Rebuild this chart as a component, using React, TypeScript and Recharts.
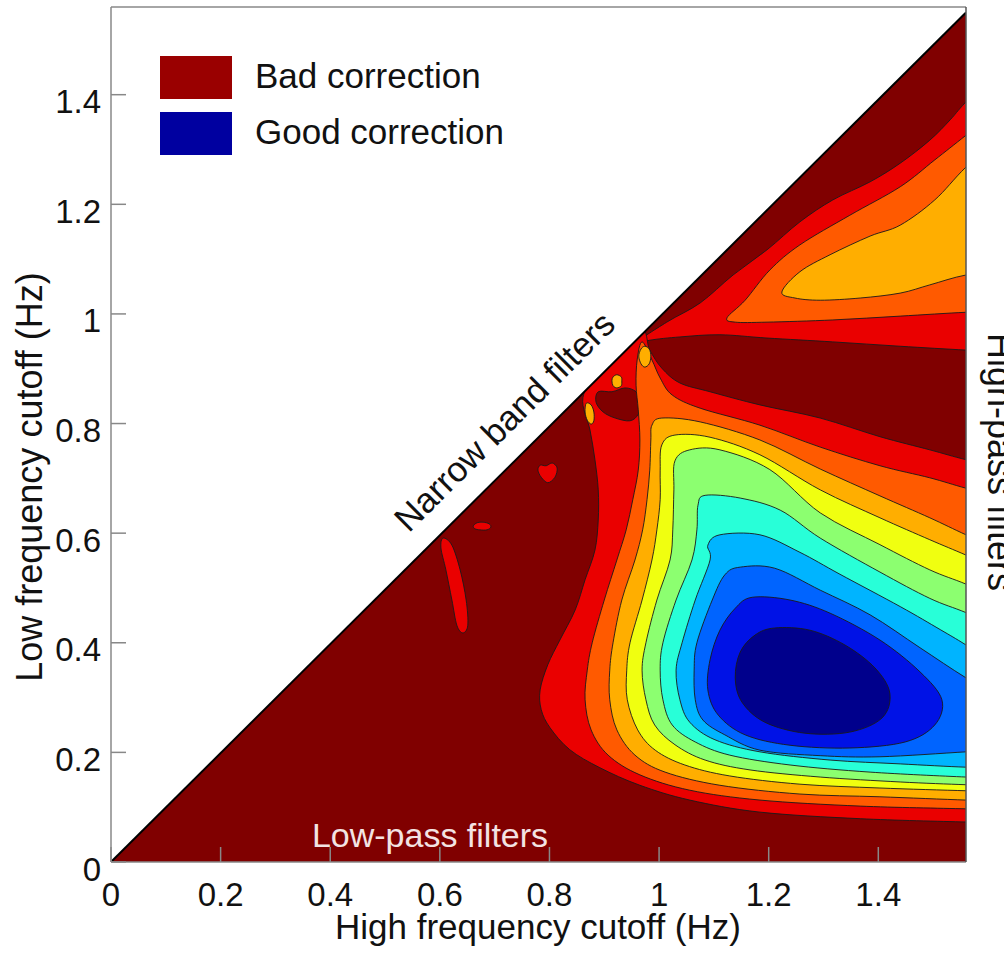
import React from 'react';
import { ComposedChart, Scatter, XAxis, YAxis } from 'recharts';

type P = [number, number];

// ---------- axes ----------
const X_TICKS = [0, 0.2, 0.4, 0.6, 0.8, 1, 1.2, 1.4];
const Y_TICKS = [0, 0.2, 0.4, 0.6, 0.8, 1, 1.2, 1.4];
const DOMAIN: [number, number] = [0, 1.56];

// ---------- frame ----------
const PLOT_AREA: P[] = [[0, 0], [1.56, 0], [1.56, 1.56], [0, 1.56]];
const ABOVE_DIAGONAL: P[] = [[0, 0], [0, 1.56], [1.56, 1.56], [1.56, 1.55]];
const DIAGONAL: P[] = [[0, 0], [1.56, 1.55]];

// ---------- basin contours (outer -> inner); the field continues past the right edge ----------
const RED_BASIN: P[] = [
  [1.64, 0.072], [1.56, 0.073], [1.367, 0.079], [1.184, 0.091], [1.056, 0.113], [0.965, 0.14], [0.892, 0.172],
  [0.837, 0.205], [0.801, 0.245], [0.785, 0.278], [0.783, 0.314], [0.797, 0.36], [0.819, 0.405],
  [0.847, 0.46], [0.865, 0.515], [0.883, 0.569], [0.889, 0.624], [0.889, 0.679], [0.883, 0.734],
  [0.874, 0.788], [0.861, 0.847], [0.892, 0.898], [0.965, 0.971], [0.983, 0.934], [1.005, 0.901],
  [1.038, 0.874], [1.093, 0.858], [1.184, 0.834], [1.294, 0.81], [1.403, 0.776], [1.494, 0.752],
  [1.56, 0.734], [1.64, 0.716],
];
const ORANGE_BASIN: P[] = [
  [1.64, 0.095], [1.56, 0.097], [1.367, 0.102], [1.184, 0.113], [1.056, 0.131], [0.965, 0.159], [0.907, 0.195],
  [0.876, 0.241], [0.865, 0.296], [0.869, 0.35], [0.878, 0.4], [0.9, 0.478], [0.923, 0.551],
  [0.94, 0.606], [0.952, 0.661], [0.962, 0.715], [0.965, 0.77], [0.962, 0.825], [0.958, 0.87],
  [0.96, 0.916], [0.969, 0.949], [0.987, 0.916], [1.002, 0.883], [1.024, 0.852], [1.075, 0.828],
  [1.184, 0.797], [1.294, 0.757], [1.403, 0.723], [1.494, 0.701], [1.56, 0.682], [1.64, 0.662],
];
const AMBER_BASIN: P[] = [
  [1.64, 0.111], [1.56, 0.113], [1.403, 0.119], [1.257, 0.124], [1.111, 0.14], [1.011, 0.164], [0.956, 0.195],
  [0.923, 0.241], [0.91, 0.296], [0.91, 0.35], [0.916, 0.4], [0.932, 0.478], [0.956, 0.551],
  [0.97, 0.606], [0.978, 0.661], [0.983, 0.715], [0.985, 0.77], [0.987, 0.797], [1.005, 0.81],
  [1.075, 0.803], [1.184, 0.77], [1.294, 0.717], [1.403, 0.668], [1.494, 0.628], [1.56, 0.597], [1.64, 0.562],
];
const YELLOW_BASIN: P[] = [
  [1.64, 0.128], [1.56, 0.13], [1.403, 0.135], [1.257, 0.142], [1.129, 0.157], [1.047, 0.177], [0.993, 0.204],
  [0.961, 0.241], [0.942, 0.296], [0.941, 0.35], [0.947, 0.4], [0.969, 0.478], [0.987, 0.551],
  [0.996, 0.606], [1.002, 0.661], [1.002, 0.715], [1.005, 0.761], [1.029, 0.779], [1.093, 0.775],
  [1.184, 0.743], [1.294, 0.679], [1.403, 0.628], [1.494, 0.588], [1.56, 0.56], [1.64, 0.525],
];
const GREEN_BASIN: P[] = [
  [1.64, 0.139], [1.56, 0.141], [1.44, 0.146], [1.294, 0.155], [1.166, 0.168], [1.084, 0.186], [1.029, 0.214],
  [0.992, 0.25], [0.976, 0.296], [0.969, 0.35], [0.976, 0.4], [0.996, 0.478], [1.02, 0.551],
  [1.025, 0.606], [1.027, 0.679], [1.029, 0.732], [1.056, 0.752], [1.111, 0.752], [1.202, 0.716],
  [1.294, 0.637], [1.403, 0.579], [1.494, 0.533], [1.56, 0.507], [1.64, 0.472],
];
const CYAN_BASIN: P[] = [
  [1.64, 0.153], [1.56, 0.155], [1.385, 0.164], [1.239, 0.177], [1.129, 0.195], [1.066, 0.219], [1.024, 0.25],
  [1.007, 0.296], [1.002, 0.35], [1.007, 0.4], [1.031, 0.478], [1.06, 0.551], [1.069, 0.606],
  [1.071, 0.651], [1.084, 0.669], [1.148, 0.664], [1.221, 0.642], [1.294, 0.591], [1.403, 0.529],
  [1.494, 0.481], [1.56, 0.455], [1.64, 0.42],
];
const LIGHTBLUE_BASIN: P[] = [
  [1.64, 0.172], [1.56, 0.173], [1.44, 0.179], [1.312, 0.186], [1.184, 0.201], [1.102, 0.223], [1.056, 0.255],
  [1.038, 0.296], [1.031, 0.35], [1.042, 0.4], [1.066, 0.478], [1.093, 0.551], [1.089, 0.578],
  [1.111, 0.597], [1.184, 0.597], [1.257, 0.565], [1.33, 0.525], [1.44, 0.466], [1.513, 0.424],
  [1.56, 0.396], [1.64, 0.345],
];
const BLUE_BASIN: P[] = [
  [1.64, 0.206], [1.56, 0.201], [1.403, 0.192], [1.294, 0.194], [1.184, 0.204], [1.12, 0.232], [1.08, 0.259],
  [1.066, 0.296], [1.064, 0.35], [1.069, 0.4], [1.097, 0.478], [1.12, 0.524], [1.148, 0.538],
  [1.211, 0.536], [1.294, 0.496], [1.385, 0.451], [1.476, 0.391], [1.56, 0.336], [1.64, 0.29],
];
const DEEPBLUE_BASIN: P[] = [
  [1.17, 0.483], [1.239, 0.478], [1.312, 0.454], [1.403, 0.405], [1.476, 0.347], [1.516, 0.296],
  [1.503, 0.25], [1.449, 0.219], [1.348, 0.208], [1.239, 0.213], [1.157, 0.232], [1.108, 0.268],
  [1.089, 0.314], [1.093, 0.369], [1.111, 0.423], [1.139, 0.463],
];
const NAVY_BASIN: P[] = [
  [1.211, 0.427], [1.275, 0.423], [1.339, 0.396], [1.394, 0.354], [1.421, 0.308], [1.407, 0.263],
  [1.348, 0.237], [1.266, 0.235], [1.193, 0.255], [1.151, 0.292], [1.139, 0.336], [1.148, 0.383],
  [1.175, 0.414],
];

// ---------- upper (high-pass) band ----------
const RED_UPPER: P[] = [
  [0.951, 0.943], [1.014, 0.985], [1.075, 1.02], [1.135, 1.071], [1.197, 1.117], [1.257, 1.168],
  [1.317, 1.208], [1.385, 1.241], [1.44, 1.275], [1.494, 1.317], [1.531, 1.354], [1.56, 1.387],
  [1.64, 1.47], [1.64, 0.93],
  [1.56, 0.934], [1.44, 0.941], [1.317, 0.949], [1.197, 0.956], [1.111, 0.962], [1.038, 0.958],
  [0.983, 0.952],
];
const ORANGE_UPPER: P[] = [
  [1.124, 0.993], [1.157, 1.025], [1.202, 1.08], [1.257, 1.126], [1.348, 1.18], [1.44, 1.232],
  [1.503, 1.281], [1.56, 1.326], [1.64, 1.39], [1.64, 1.005],
  [1.56, 1.003], [1.44, 0.996], [1.317, 0.989], [1.197, 0.985], [1.139, 0.985],
];
const AMBER_UPPER: P[] = [
  [1.224, 1.04], [1.257, 1.077], [1.312, 1.108], [1.385, 1.142], [1.44, 1.162], [1.503, 1.208],
  [1.56, 1.268], [1.64, 1.34], [1.64, 1.08],
  [1.56, 1.071], [1.494, 1.053], [1.44, 1.038], [1.367, 1.029], [1.294, 1.025], [1.248, 1.029],
];

// ---------- small islands ----------
const DARK_EYE: P[] = [
  [0.889, 0.858], [0.914, 0.858], [0.938, 0.865], [0.958, 0.858], [0.967, 0.839], [0.962, 0.817],
  [0.947, 0.805], [0.92, 0.81], [0.898, 0.821], [0.885, 0.839],
];
const AMBER_BLOB_1: P[] = [
  [0.974, 0.941], [0.982, 0.936], [0.985, 0.923], [0.982, 0.909], [0.974, 0.903], [0.967, 0.909],
  [0.963, 0.923], [0.967, 0.936],
];
const AMBER_BLOB_2: P[] = [
  [0.923, 0.889], [0.931, 0.885], [0.932, 0.878], [0.931, 0.869], [0.923, 0.865], [0.916, 0.869],
  [0.914, 0.878], [0.916, 0.885],
];
const AMBER_BLOB_3: P[] = [
  [0.867, 0.837], [0.876, 0.834], [0.881, 0.821], [0.881, 0.805], [0.876, 0.799], [0.869, 0.806],
  [0.865, 0.821],
];
const RED_BLOB_1: P[] = [
  [0.783, 0.724], [0.794, 0.723], [0.805, 0.728], [0.814, 0.719], [0.81, 0.702], [0.797, 0.692],
  [0.785, 0.702], [0.779, 0.715],
];
const RED_BLOB_2: P[] = [
  [0.661, 0.613], [0.668, 0.619], [0.679, 0.62], [0.69, 0.617], [0.693, 0.611], [0.686, 0.606],
  [0.673, 0.606], [0.664, 0.608],
];
const RED_BLOB_3: P[] = [
  [0.606, 0.591], [0.622, 0.578], [0.637, 0.533], [0.648, 0.478], [0.651, 0.432], [0.642, 0.418],
  [0.631, 0.432], [0.622, 0.478], [0.611, 0.533], [0.602, 0.573],
];

// ---------- colours ----------
const C_DARKRED = '#800000';
const C_RED = '#ea0000';
const C_ORANGE = '#ff5a00';
const C_AMBER = '#ffae00';
const C_YELLOW = '#f0ff10';
const C_GREEN = '#8cff70';
const C_CYAN = '#28ffd8';
const C_LIGHTBLUE = '#00b4ff';
const C_BLUE = '#0064ff';
const C_DEEPBLUE = '#0012e6';
const C_NAVY = '#00008c';
const LINE = '#1a1a1a';

const LEGEND_ITEMS = [
  { label: 'Bad correction', color: '#9a0000' },
  { label: 'Good correction', color: '#0000a0' },
];

const FONT = '"Liberation Sans", Arial, Helvetica, sans-serif';

type Layer = { key: string; pts: P[]; fill: string; stroke: string; smooth: boolean };

const LAYERS: Layer[] = [
  { key: 'bg', pts: PLOT_AREA, fill: C_DARKRED, stroke: 'none', smooth: false },
  { key: 'rb1', pts: RED_BLOB_1, fill: C_RED, stroke: LINE, smooth: true },
  { key: 'rb2', pts: RED_BLOB_2, fill: C_RED, stroke: LINE, smooth: true },
  { key: 'rb3', pts: RED_BLOB_3, fill: C_RED, stroke: LINE, smooth: true },
  { key: 'u1', pts: RED_UPPER, fill: C_RED, stroke: LINE, smooth: true },
  { key: 'u2', pts: ORANGE_UPPER, fill: C_ORANGE, stroke: LINE, smooth: true },
  { key: 'u3', pts: AMBER_UPPER, fill: C_AMBER, stroke: LINE, smooth: true },
  { key: 'l1', pts: RED_BASIN, fill: C_RED, stroke: LINE, smooth: true },
  { key: 'eye', pts: DARK_EYE, fill: C_DARKRED, stroke: LINE, smooth: true },
  { key: 'l2', pts: ORANGE_BASIN, fill: C_ORANGE, stroke: LINE, smooth: true },
  { key: 'ab1', pts: AMBER_BLOB_1, fill: C_AMBER, stroke: LINE, smooth: true },
  { key: 'ab2', pts: AMBER_BLOB_2, fill: C_AMBER, stroke: LINE, smooth: true },
  { key: 'ab3', pts: AMBER_BLOB_3, fill: C_AMBER, stroke: LINE, smooth: true },
  { key: 'l3', pts: AMBER_BASIN, fill: C_AMBER, stroke: LINE, smooth: true },
  { key: 'l4', pts: YELLOW_BASIN, fill: C_YELLOW, stroke: LINE, smooth: true },
  { key: 'l5', pts: GREEN_BASIN, fill: C_GREEN, stroke: LINE, smooth: true },
  { key: 'l6', pts: CYAN_BASIN, fill: C_CYAN, stroke: LINE, smooth: true },
  { key: 'l7', pts: LIGHTBLUE_BASIN, fill: C_LIGHTBLUE, stroke: LINE, smooth: true },
  { key: 'l8', pts: BLUE_BASIN, fill: C_BLUE, stroke: LINE, smooth: true },
  { key: 'l9', pts: DEEPBLUE_BASIN, fill: C_DEEPBLUE, stroke: LINE, smooth: true },
  { key: 'l10', pts: NAVY_BASIN, fill: C_NAVY, stroke: LINE, smooth: true },
  { key: 'white', pts: ABOVE_DIAGONAL, fill: '#ffffff', stroke: 'none', smooth: false },
];

const toXY = (pts: P[]) => pts.map(([x, y]) => ({ x, y }));

function closedPath(pts: { x: number; y: number }[], smooth: boolean): string {
  const n = pts.length;
  if (!pts || n === 0) return '';
  if (!smooth) return 'M' + pts.map((p) => `${p.x},${p.y}`).join('L') + 'Z';
  let d = `M${pts[0].x},${pts[0].y}`;
  for (let i = 0; i < n; i++) {
    const p0 = pts[(i - 1 + n) % n];
    const p1 = pts[i];
    const p2 = pts[(i + 1) % n];
    const p3 = pts[(i + 2) % n];
    const c1x = p1.x + (p2.x - p0.x) / 6;
    const c1y = p1.y + (p2.y - p0.y) / 6;
    const c2x = p2.x - (p3.x - p1.x) / 6;
    const c2y = p2.y - (p3.y - p1.y) / 6;
    d += `C${c1x},${c1y},${c2x},${c2y},${p2.x},${p2.y}`;
  }
  return d + 'Z';
}

const Empty = () => <g />;

const BottomTick = (p: any) => (
  <text x={p.x} y={p.y + 44} textAnchor="middle" fontSize={33} fill="#111" fontFamily={FONT}>
    {String(p.payload.value)}
  </text>
);
const LeftTick = (p: any) => (
  <text x={p.x - 10} y={p.y + 18.5} textAnchor="end" fontSize={33} fill="#111" fontFamily={FONT}>
    {String(p.payload.value)}
  </text>
);

const AXIS_STROKE = { stroke: '#888', strokeWidth: 1.5 };

export default function App() {
  const axisProps: any = { zIndex: 1000 };
  return (
    <div style={{ position: 'absolute', left: 0, top: 0, width: 1004, height: 958, background: '#fff', overflow: 'hidden' }}>
      <ComposedChart width={1004} height={958} margin={{ top: 0, right: 0, bottom: 0, left: 0 }}>
        {LAYERS.map((l) => (
          <Scatter
            key={l.key}
            name={l.key}
            data={toXY(l.pts)}
            dataKey="y"
            xAxisId={0}
            yAxisId={0}
            shape={Empty}
            isAnimationActive={false}
            line={(lp: any) => (
              <path d={closedPath(lp.points || [], l.smooth)} fill={l.fill} stroke={l.stroke} strokeWidth={0.9} strokeLinejoin="round" />
            )}
          />
        ))}
        <Scatter
          name="diagonal"
          data={toXY(DIAGONAL)}
          dataKey="y"
          xAxisId={0}
          yAxisId={0}
          shape={Empty}
          isAnimationActive={false}
          line={(lp: any) => {
            const pts = lp.points || [];
            if (pts.length < 2) return <g />;
            return <path d={`M${pts[0].x},${pts[0].y}L${pts[1].x},${pts[1].y}`} stroke="#000" strokeWidth={2} fill="none" />;
          }}
        />
        <XAxis {...axisProps} xAxisId={0} type="number" dataKey="x" domain={DOMAIN} allowDataOverflow ticks={X_TICKS} interval={0}
          height={96} tickSize={-15} tickMargin={15} tick={BottomTick} axisLine={AXIS_STROKE} tickLine={AXIS_STROKE} />
        <XAxis {...axisProps} xAxisId="top" orientation="top" type="number" dataKey="x" domain={DOMAIN} allowDataOverflow ticks={X_TICKS}
          interval={0} height={7} tickSize={-15} tick={false} axisLine={AXIS_STROKE} tickLine={AXIS_STROKE} />
        <YAxis {...axisProps} yAxisId={0} type="number" dataKey="y" domain={DOMAIN} allowDataOverflow ticks={Y_TICKS} interval={0}
          width={111} tickSize={-15} tickMargin={15} tick={LeftTick} axisLine={AXIS_STROKE} tickLine={AXIS_STROKE} />
        <YAxis {...axisProps} yAxisId="right" orientation="right" type="number" dataKey="y" domain={DOMAIN} allowDataOverflow ticks={Y_TICKS}
          interval={0} width={38} tickSize={-15} tick={false} axisLine={{ stroke: '#555', strokeWidth: 1.5 }} tickLine={AXIS_STROKE} />
      </ComposedChart>
      <svg width={1004} height={958} style={{ position: 'absolute', left: 0, top: 0, pointerEvents: 'none' }} fontFamily={FONT}>
        {LEGEND_ITEMS.map((it, i) => (
          <g key={it.label}>
            <rect x={160} y={56 + i * 56} width={72} height={43} fill={it.color} />
            <text x={255} y={88 + i * 56} fontSize={35} fill="#111">{it.label}</text>
          </g>
        ))}
        <text x={513} y={430} fontSize={35} fill="#111" textAnchor="middle" transform="rotate(-44.8 513 430)">Narrow band filters</text>
        <text x={430} y={847} fontSize={34} fill="#f3e3e3" textAnchor="middle">Low-pass filters</text>
        <text x={988} y={462} fontSize={36} fill="#111" textAnchor="middle" transform="rotate(90 988 462)">High-pass filters</text>
        <text x={538} y={939} fontSize={35} fill="#111" textAnchor="middle">High frequency cutoff (Hz)</text>
        <text x={42} y={477} fontSize={36} fill="#111" textAnchor="middle" transform="rotate(-90 42 477)">Low frequency cutoff (Hz)</text>
      </svg>
    </div>
  );
}
